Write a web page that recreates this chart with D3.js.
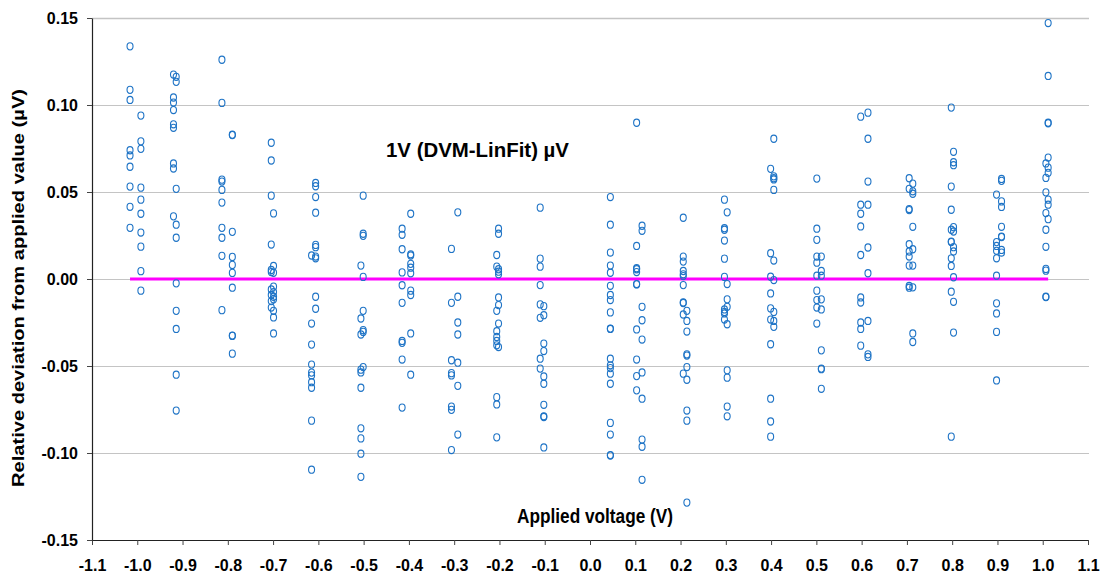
<!DOCTYPE html>
<html>
<head>
<meta charset="utf-8">
<script src="https://cdn.jsdelivr.net/npm/d3@7"></script>
<style>
  html, body { margin: 0; padding: 0; background: #fff; }
  svg { display: block; font-family: Arial, "Liberation Sans", Helvetica, sans-serif; }
</style>
</head>
<body>
<svg id="chart" width="1103" height="578"></svg>
<script>
// ---------------- data ----------------
const xTicks = [-1.1, -1.0, -0.9, -0.8, -0.7, -0.6, -0.5, -0.4, -0.3, -0.2, -0.1, 0.0, 0.1, 0.2, 0.3, 0.4, 0.5, 0.6, 0.7, 0.8, 0.9, 1.0, 1.1];
const yTicks = [-0.15, -0.10, -0.05, 0.00, 0.05, 0.10, 0.15];

// applied voltage of each group of repeated measurements
const groupX = [
  -1.016, -0.992, -0.920, -0.914, -0.813, -0.790, -0.704, -0.699,
  -0.615, -0.606, -0.506, -0.501, -0.415, -0.396, -0.306, -0.292,
  -0.206, -0.202, -0.110, -0.102, 0.045, 0.103, 0.115, 0.206, 0.214,
  0.297, 0.303, 0.399, 0.406, 0.501, 0.511, 0.598, 0.614,
  0.705, 0.713, 0.798, 0.803, 0.898, 0.909, 1.007, 1.012
];
// relative deviations (µV) for each group
const groupY = [
  [0.1337, 0.1087, 0.1029, 0.0740, 0.0710, 0.0645, 0.0531, 0.0415, 0.0294],
  [0.0939, 0.0791, 0.0748, 0.0525, 0.0456, 0.0375, 0.0267, 0.0186, 0.0045, -0.0067],
  [0.1175, 0.1043, 0.1014, 0.0971, 0.0889, 0.0869, 0.0664, 0.0635, 0.0360],
  [0.1162, 0.1133, 0.0518, 0.0312, 0.0237, -0.0025, -0.0183, -0.0287, -0.0550, -0.0756],
  [0.1260, 0.1012, 0.0571, 0.0560, 0.0512, 0.0439, 0.0294, 0.0237, 0.0133, -0.0179],
  [0.0829, 0.0827, 0.0271, 0.0127, 0.0081, 0.0035, -0.0050, -0.0325, -0.0327, -0.0429],
  [0.0783, 0.0681, 0.0479, 0.0198, 0.0052, 0.0040, -0.0060, -0.0092, -0.0127, -0.0164],
  [0.0377, 0.0075, 0.0036, -0.0044, -0.0075, -0.0102, -0.0117, -0.0183, -0.0221, -0.0313],
  [0.0135, -0.0256, -0.0377, -0.0492, -0.0538, -0.0554, -0.0593, -0.0625, -0.0814, -0.1096],
  [0.0552, 0.0533, 0.0471, 0.0381, 0.0196, 0.0183, 0.0129, 0.0119, -0.0102, -0.0171],
  [0.0077, -0.0227, -0.0319, -0.0521, -0.0537, -0.0625, -0.0858, -0.0916, -0.1004, -0.1137],
  [0.0479, 0.0260, 0.0248, 0.0012, -0.0183, -0.0294, -0.0304, -0.0506],
  [0.0289, 0.0254, 0.0171, 0.0038, -0.0036, -0.0137, -0.0356, -0.0367, -0.0463, -0.0739],
  [0.0375, 0.0142, 0.0135, 0.0087, 0.0065, 0.0033, -0.0067, -0.0092, -0.0313, -0.0550],
  [0.0173, -0.0137, -0.0467, -0.0541, -0.0554, -0.0733, -0.0752, -0.0983],
  [0.0383, -0.0102, -0.0250, -0.0319, -0.0481, -0.0614, -0.0894],
  [0.0138, 0.0071, -0.0183, -0.0300, -0.0333, -0.0356, -0.0381, -0.0679, -0.0721, -0.0910],
  [0.0289, 0.0260, 0.0056, 0.0042, 0.0027, -0.0106, -0.0150, -0.0256, -0.0391],
  [0.0410, 0.0117, 0.0071, -0.0035, -0.0146, -0.0223, -0.0458, -0.0515],
  [-0.0156, -0.0208, -0.0371, -0.0414, -0.0560, -0.0602, -0.0723, -0.0789, -0.0793, -0.0968],
  [0.0471, 0.0312, 0.0152, 0.0077, 0.0036, -0.0039, -0.0092, -0.0121, -0.0192, -0.0285, -0.0287, -0.0458, -0.0496, -0.0512, -0.0544, -0.0602, -0.0827, -0.0894, -0.1012, -0.1015],
  [0.0898, 0.0190, 0.0062, 0.0056, 0.0040, -0.0029, -0.0031, -0.0290, -0.0463, -0.0558, -0.0640],
  [0.0306, 0.0277, -0.0160, -0.0237, -0.0348, -0.0537, -0.0688, -0.0923, -0.0964, -0.1154],
  [0.0352, 0.0129, 0.0100, 0.0046, 0.0027, 0.0017, -0.0035, -0.0135, -0.0138, -0.0204, -0.0544],
  [-0.0183, -0.0241, -0.0302, -0.0433, -0.0440, -0.0506, -0.0579, -0.0756, -0.0814, -0.1285],
  [0.0456, 0.0292, 0.0283, 0.0221, 0.0117, 0.0012, -0.0175, -0.0189, -0.0198, -0.0233],
  [0.0383, -0.0029, -0.0117, -0.0160, -0.0260, -0.0525, -0.0567, -0.0733, -0.0789],
  [0.0633, 0.0148, 0.0013, -0.0083, -0.0169, -0.0233, -0.0375, -0.0688, -0.0819, -0.0906],
  [0.0806, 0.0590, 0.0579, 0.0572, 0.0512, 0.0106, -0.0006, -0.0189, -0.0241, -0.0275],
  [0.0577, 0.0289, 0.0225, 0.0129, 0.0094, 0.0019, -0.0067, -0.0121, -0.0164, -0.0256],
  [0.0129, 0.0046, 0.0019, -0.0117, -0.0175, -0.0410, -0.0515, -0.0518, -0.0631],
  [0.0933, 0.0427, 0.0375, 0.0302, 0.0138, -0.0106, -0.0135, -0.0250, -0.0287, -0.0383],
  [0.0956, 0.0806, 0.0560, 0.0427, 0.0181, 0.0033, -0.0241, -0.0433, -0.0448],
  [0.0579, 0.0518, 0.0402, 0.0396, 0.0200, 0.0158, 0.0129, 0.0077, -0.0040, -0.0050],
  [0.0548, 0.0504, 0.0490, 0.0300, 0.0171, 0.0077, -0.0048, -0.0313, -0.0362],
  [0.0985, 0.0531, 0.0398, 0.0283, 0.0215, 0.0212, 0.0119, 0.0075, -0.0073, -0.0906],
  [0.0731, 0.0671, 0.0654, 0.0298, 0.0273, 0.0183, 0.0158, 0.0010, -0.0131, -0.0308],
  [0.0485, 0.0212, 0.0190, 0.0162, 0.0119, 0.0019, -0.0140, -0.0198, -0.0304, -0.0583],
  [0.0575, 0.0564, 0.0446, 0.0414, 0.0300, 0.0244, 0.0241, 0.0167, 0.0152],
  [0.0664, 0.0581, 0.0498, 0.0379, 0.0283, 0.0185, 0.0058, 0.0048, -0.0102, -0.0104],
  [0.1471, 0.1167, 0.0898, 0.0895, 0.0698, 0.0640, 0.0610, 0.0456, 0.0427, 0.0344]
];

// linear fit line (DVM - LinFit)
const fitX = [-1.016, 1.012];
const fitY = [0.0, 0.0];

const titleText = "1V (DVM-LinFit) µV";
const xTitle = "Applied voltage (V)";
const yTitle = "Relative deviation from applied value (µV)";

// ---------------- layout ----------------
const svg = d3.select("#chart");
const margin = { left: 92, right: 15, top: 18, bottom: 38 };
const W = 1103, H = 578;
const x = d3.scaleLinear().domain([-1.1, 1.1]).range([margin.left, W - margin.right]);
const y = d3.scaleLinear().domain([-0.15, 0.15]).range([H - margin.bottom, margin.top]);

const points = [];
groupX.forEach((gx, i) => groupY[i].forEach(v => points.push({ x: gx, y: v })));

// gridlines
svg.append("g")
  .selectAll("line")
  .data(yTicks.filter(t => t > -0.15))
  .join("line")
  .attr("x1", x(-1.1)).attr("x2", x(1.1) + 1)
  .attr("y1", d => Math.round(y(d)) + 0.5).attr("y2", d => Math.round(y(d)) + 0.5)
  .attr("stroke", "#c4c4c4")
  .attr("stroke-width", d => d === 0.15 ? 1.6 : 1.1);

// title inside chart
svg.append("text")
  .attr("x", 386).attr("y", 157)
  .attr("font-size", 21).attr("font-weight", "bold")
  .attr("textLength", 183).attr("lengthAdjust", "spacingAndGlyphs")
  .attr("fill", "#000")
  .text(titleText);

// x axis title (inside plot)
svg.append("text")
  .attr("x", 517).attr("y", 523)
  .attr("font-size", 20).attr("font-weight", "bold")
  .attr("textLength", 156).attr("lengthAdjust", "spacingAndGlyphs")
  .text(xTitle);

// y axis title
svg.append("text")
  .attr("transform", `translate(24, 288) rotate(-90)`)
  .attr("text-anchor", "middle")
  .attr("font-size", 16).attr("font-weight", "bold")
  .attr("textLength", 398).attr("lengthAdjust", "spacingAndGlyphs")
  .text(yTitle);

// fit line
svg.append("path")
  .datum(fitX.map((v, i) => [v, fitY[i]]))
  .attr("fill", "none")
  .attr("stroke", "#ff00ff")
  .attr("stroke-width", 3)
  .attr("d", d3.line().x(d => x(d[0])).y(d => y(d[1])));

// points
svg.append("g")
  .selectAll("ellipse")
  .data(points)
  .join("ellipse")
  .attr("cx", d => x(d.x))
  .attr("cy", d => y(d.y))
  .attr("rx", 3)
  .attr("ry", 3.6)
  .attr("fill", "none")
  .attr("stroke", "#1f74c6")
  .attr("stroke-width", 1.1);

// axes
const xAxis = d3.axisBottom(x).tickValues(xTicks).tickSize(5).tickSizeOuter(0)
  .tickFormat(d3.format(".1f"));
const gx = svg.append("g")
  .attr("transform", `translate(0, ${H - margin.bottom})`)
  .call(xAxis);
gx.select(".domain").attr("stroke", "#222").attr("stroke-width", 1.2);
gx.selectAll(".tick line").attr("stroke", "#444");
gx.selectAll("text")
  .attr("font-size", 16).attr("font-weight", "bold").attr("fill", "#000")
  .attr("font-family", "Arial, 'Liberation Sans', sans-serif")
  .attr("dy", "1.45em")
  .text(d => d3.format(".1f")(d).replace("−", "-"));

const yAxis = d3.axisLeft(y).tickValues(yTicks).tickSize(5).tickSizeOuter(0)
  .tickFormat(d3.format(".2f"));
const gy = svg.append("g")
  .attr("transform", `translate(${margin.left}, 0)`)
  .call(yAxis);
gy.select(".domain").attr("stroke", "#222").attr("stroke-width", 1.2);
gy.selectAll(".tick line").attr("stroke", "#444");
gy.selectAll("text")
  .attr("font-size", 16).attr("font-weight", "bold").attr("fill", "#000")
  .attr("font-family", "Arial, 'Liberation Sans', sans-serif")
  .attr("x", -14)
  .text(d => d3.format(".2f")(d).replace("−", "-"));
</script>
</body>
</html>
